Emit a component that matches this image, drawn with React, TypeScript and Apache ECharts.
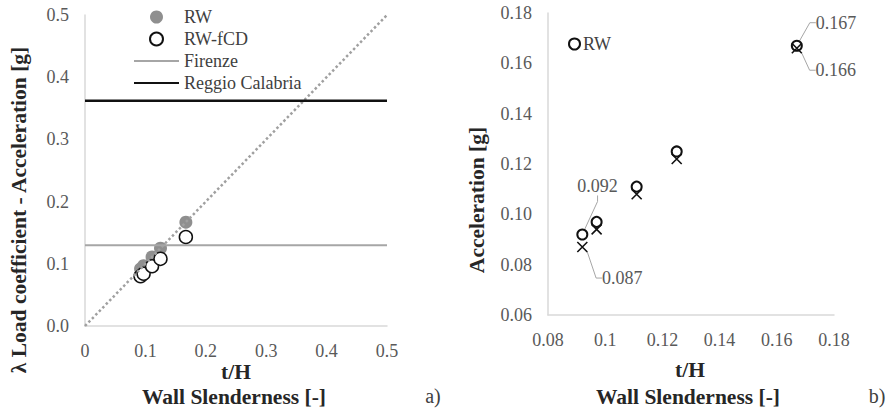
import React, { useEffect, useRef } from "react";
import * as echarts from "echarts";

// ---- data ----
const slenderness = [0.092, 0.097, 0.111, 0.125, 0.167];
const rwLoadA = [0.092, 0.097, 0.111, 0.125, 0.167];
const rwfcdLoadA = [0.08, 0.084, 0.096, 0.108, 0.143];
const firenzeAcc = 0.13;
const reggioAcc = 0.362;
const bisectorX = [0, 0.5];
const rwAccB = [0.092, 0.097, 0.111, 0.125, 0.167];
const fcdAccB = [0.087, 0.094, 0.108, 0.122, 0.166];
const rwLabelled = [0, 4];
const fcdLabelled = [0, 4];
const axisXA = [0, 0.5, 0.1];
const axisYA = [0, 0.5, 0.1];
const axisXB = [0.08, 0.18, 0.02];
const axisYB = [0.06, 0.18, 0.02];

const FONT = "Liberation Serif";
const TICK_COLOR = "#595959";
const TITLE_COLOR = "#262626";
const TITLE_FONT = `bold 21.5px "Liberation Serif", serif`;

export default function App() {
  const ref = useRef<HTMLDivElement>(null);
  useEffect(() => {
    document.body.style.margin = "0";
    const chart = echarts.init(ref.current!, null, { renderer: "svg" });

    const axisCommon = {
      type: "value" as const,
      axisLine: { show: true, onZero: false, lineStyle: { color: "#d9d9d9", width: 1.5 } },
      axisTick: { show: false },
      splitLine: { show: false },
    };
    const labelStyle = {
      color: TICK_COLOR,
      fontSize: 18,
      fontFamily: FONT,
      fontStyle: "normal",
      fontWeight: "normal",
      margin: 16,
    };

    const rwOffsets: Record<number, any> = { 0: { dx: -16, dy: -48 }, 4: { dx: 8, dy: -23 } };
    const fcdOffsets: Record<number, any> = { 0: { dx: 9, dy: 31 }, 4: { dx: 8, dy: 22 } };
    const annLabel = {
      position: "right" as const,
      distance: 5,
      color: TICK_COLOR,
      fontSize: 18,
      fontFamily: FONT,
      formatter: (p: any) => p.value[1].toFixed(3),
    };
    const annLine = { show: true, length2: 6, lineStyle: { color: "#a6a6a6", width: 1 } };
    const hiddenSymbol = { opacity: 0, color: "transparent", borderWidth: 0 };

    const option: any = {
      animation: false,
      textStyle: { fontFamily: FONT },
      grid: [
        { left: 85, top: 15, width: 302, height: 311 },
        { left: 548, top: 13, width: 286, height: 302 },
      ],
      xAxis: [
        {
          ...axisCommon,
          gridIndex: 0,
          min: axisXA[0],
          max: axisXA[1],
          interval: axisXA[2],
          axisLabel: { ...labelStyle, formatter: (v: number) => String(+v.toFixed(1)) },
        },
        {
          ...axisCommon,
          gridIndex: 1,
          min: axisXB[0],
          max: axisXB[1],
          interval: axisXB[2],
          axisLabel: { ...labelStyle, formatter: (v: number) => String(+v.toFixed(2)) },
        },
      ],
      yAxis: [
        {
          ...axisCommon,
          gridIndex: 0,
          min: axisYA[0],
          max: axisYA[1],
          interval: axisYA[2],
          axisLabel: { ...labelStyle, formatter: (v: number) => v.toFixed(1) },
        },
        {
          ...axisCommon,
          gridIndex: 1,
          min: axisYB[0],
          max: axisYB[1],
          interval: axisYB[2],
          axisLabel: { ...labelStyle, formatter: (v: number) => v.toFixed(2) },
        },
      ],
      legend: [
        {
          data: [
            "RW",
            "RW-fCD",
            { name: "Firenze", itemStyle: hiddenSymbol },
            { name: "Reggio Calabria", itemStyle: hiddenSymbol },
          ],
          orient: "vertical",
          left: 128,
          top: 3,
          itemWidth: 45,
          itemHeight: 13,
          itemGap: 4,
          textStyle: { color: "#404040", fontSize: 18, fontFamily: FONT },
        },
        {
          data: ["RW (b)"],
          orient: "vertical",
          left: 563,
          top: 30,
          itemWidth: 11,
          itemHeight: 11,
          itemGap: 4,
          formatter: () => "RW",
          textStyle: { color: "#404040", fontSize: 18, fontFamily: FONT, padding: [0, 0, 0, -2] },
        },
      ],
      series: [
        {
          name: "bisector",
          type: "line",
          xAxisIndex: 0,
          yAxisIndex: 0,
          symbol: "none",
          data: bisectorX.map((x) => [x, x]),
          lineStyle: { color: "#a0a0a0", width: 2.5, type: "dotted" },
          silent: true,
        },
        {
          name: "Firenze",
          type: "line",
          xAxisIndex: 0,
          yAxisIndex: 0,
          symbol: "none",
          data: axisXA.slice(0, 2).map((x) => [x, firenzeAcc]),
          lineStyle: { color: "#a6a6a6", width: 2 },
          itemStyle: { color: "#a6a6a6" },
        },
        {
          name: "Reggio Calabria",
          type: "line",
          xAxisIndex: 0,
          yAxisIndex: 0,
          symbol: "none",
          data: axisXA.slice(0, 2).map((x) => [x, reggioAcc]),
          lineStyle: { color: "#111", width: 2.5 },
          itemStyle: { color: "#111" },
        },
        {
          name: "RW",
          type: "scatter",
          xAxisIndex: 0,
          yAxisIndex: 0,
          symbol: "circle",
          symbolSize: 13,
          itemStyle: { color: "#8f8f8f", opacity: 1 },
          data: slenderness.map((x, i) => [x, rwLoadA[i]]),
        },
        {
          name: "RW-fCD",
          type: "scatter",
          xAxisIndex: 0,
          yAxisIndex: 0,
          symbol: "circle",
          symbolSize: 13,
          itemStyle: { color: "#fff", borderColor: "#111", borderWidth: 1.5, opacity: 1 },
          data: slenderness.map((x, i) => [x, rwfcdLoadA[i]]),
        },
        {
          name: "RW (b)",
          type: "scatter",
          xAxisIndex: 1,
          yAxisIndex: 1,
          symbol: "emptyCircle",
          symbolSize: 10,
          itemStyle: { color: "#111", borderColor: "#111", borderWidth: 1.5, opacity: 1 },
          data: slenderness.map((x, i) => ({
            value: [x, rwAccB[i]],
            label: { show: rwLabelled.includes(i) },
            labelLine: { show: rwLabelled.includes(i) },
          })),
          label: annLabel,
          labelLine: annLine,
          labelLayout: (p: any) => rwOffsets[p.dataIndex] || {},
        },
        {
          name: "RW-fCD (b)",
          type: "scatter",
          xAxisIndex: 1,
          yAxisIndex: 1,
          symbol: "path://M0,0L10,10M10,0L0,10",
          symbolSize: 10,
          itemStyle: { color: "transparent", borderColor: "#111", borderWidth: 1.6, opacity: 1 },
          data: slenderness.map((x, i) => ({
            value: [x, fcdAccB[i]],
            label: { show: fcdLabelled.includes(i) },
            labelLine: { show: fcdLabelled.includes(i) },
          })),
          label: annLabel,
          labelLine: annLine,
          labelLayout: (p: any) => fcdOffsets[p.dataIndex] || {},
        },
      ],
      graphic: [
        {
          type: "text",
          x: 19,
          y: 210,
          rotation: Math.PI / 2,
          style: {
            text: "λ Load coefficient - Acceleration [g]",
            fill: TITLE_COLOR,
            font: TITLE_FONT,
            textAlign: "center",
            textVerticalAlign: "middle",
          },
        },
        {
          type: "text",
          x: 236,
          y: 372,
          style: { text: "t/H", fill: TITLE_COLOR, font: TITLE_FONT, textAlign: "center", textVerticalAlign: "middle" },
        },
        {
          type: "text",
          x: 234,
          y: 397,
          style: { text: "Wall Slenderness [-]", fill: TITLE_COLOR, font: TITLE_FONT, textAlign: "center", textVerticalAlign: "middle" },
        },
        {
          type: "text",
          x: 433,
          y: 396,
          style: { text: "a)", fill: "#404040", font: `20px "Liberation Serif", serif`, textAlign: "center", textVerticalAlign: "middle" },
        },
        {
          type: "text",
          x: 477,
          y: 200,
          rotation: Math.PI / 2,
          style: { text: "Acceleration [g]", fill: TITLE_COLOR, font: TITLE_FONT, textAlign: "center", textVerticalAlign: "middle" },
        },
        {
          type: "text",
          x: 690,
          y: 370,
          style: { text: "t/H", fill: TITLE_COLOR, font: TITLE_FONT, textAlign: "center", textVerticalAlign: "middle" },
        },
        {
          type: "text",
          x: 688,
          y: 397,
          style: { text: "Wall Slenderness [-]", fill: TITLE_COLOR, font: TITLE_FONT, textAlign: "center", textVerticalAlign: "middle" },
        },
        {
          type: "text",
          x: 877,
          y: 396,
          style: { text: "b)", fill: "#404040", font: `20px "Liberation Serif", serif`, textAlign: "center", textVerticalAlign: "middle" },
        },
      ],
    };
    chart.setOption(option);
    return () => chart.dispose();
  }, []);
  return <div ref={ref} style={{ width: 895, height: 412 }} />;
}
